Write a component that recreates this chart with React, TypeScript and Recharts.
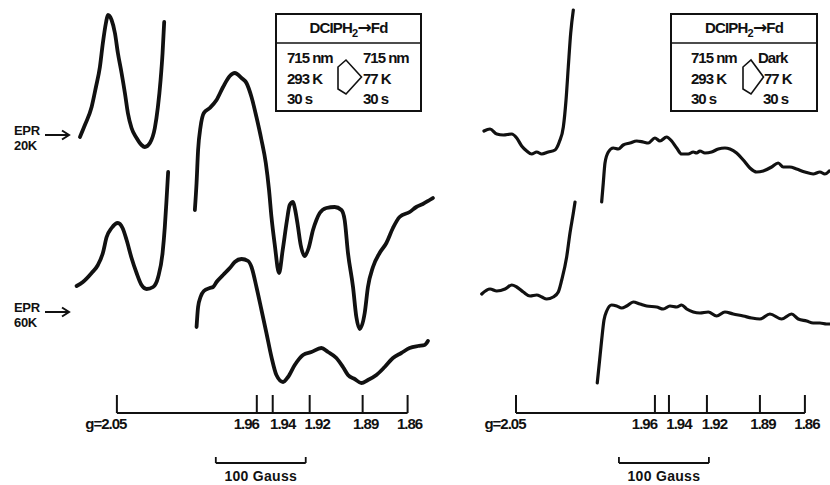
import React from 'react';
import { LineChart, Line, XAxis, YAxis, ReferenceLine } from 'recharts';

// ---------- data (field in Gauss, offset from g = 2.05; signal in arbitrary units) ----------
const G_LABELS = ['g=2.05', '1.96', '1.94', '1.92', '1.89', '1.86'];
const FIELD_TICKS_A = [0, 155.6, 173.3, 214.4, 273.3, 323.3];
const FIELD_TICKS_B = [0, 154.4, 170, 212.2, 271.1, 321.1];
const SCALE_BAR_A = [110, 210];
const SCALE_BAR_B = [114.4, 214.4];
const SCALE_LABEL = '100 Gauss';

const left20kLow: [number, number][] = [[-41.1,348],[-35.6,360],[-28.1,378],[-23.3,398],[-18.9,418],[-15.6,442],[-12.2,462],[-10,470],[-5.9,465],[-2.2,452],[1.1,432],[5.2,412],[8.9,392],[12.2,372],[16.3,357],[21.9,347],[27.4,340],[31.1,338],[36.7,342],[42.2,357],[45.6,378],[48.6,405],[50.8,432],[52.6,463]];
const left20kHigh: [number, number][] = [[86.7,275],[88.6,302],[90.3,335],[93,358],[96.7,372],[103.3,377],[110.8,385],[118.1,398],[125.6,409],[131.1,412],[138.6,407],[144.1,402],[149.7,388],[155.2,368],[160.8,345],[165.6,322],[169.2,295],[171.9,268],[175.6,240],[180.3,212],[184.4,235],[189.2,265],[192.2,280],[195.9,283],[198.3,275],[201.1,260],[204.4,240],[208.9,229],[213.3,237],[218.1,255],[221.9,265],[225.6,272],[233,277],[242.2,278],[249.7,275],[253.3,265],[257,232],[262.6,198],[266.3,168],[270,156],[275.6,172],[279.2,198],[284.8,218],[292.2,232],[299.7,242],[307,257],[314.4,268],[325.6,273],[333,278],[340.3,281],[347.8,285],[351.4,287]];
const left60kLow: [number, number][] = [[-44.8,199],[-37.8,203],[-28.1,212],[-21.1,220],[-15.6,232],[-11.4,248],[-5.9,257],[1.1,262],[6.3,257],[10.8,245],[16.3,227],[21.9,212],[27.4,200],[33,196],[40.3,198],[45.9,208],[50.8,232],[53.3,258],[55.2,285],[57,313]];
const left60kHigh: [number, number][] = [[88.6,158],[90.3,178],[93,188],[96.7,194],[103.3,197],[107,198],[110.8,203],[118.1,210],[125.6,217],[131.1,223],[138.6,226],[145.9,224],[149.7,218],[155.2,198],[160.8,175],[166.3,152],[171.9,128],[177.4,110],[184.8,103],[190.3,108],[197.8,120],[207,130],[216.3,133],[227.4,137],[234.8,133],[244.1,127],[251.4,118],[257,110],[264.4,106],[271.9,102],[279.2,105],[288.6,110],[297.8,118],[307,127],[316.3,132],[325.6,137],[334.8,139],[342.2,140],[345.9,144]];

const right20kLow: [number, number][] = [[-35.6,354],[-28.9,356],[-21.4,351],[-14.1,350],[-4.8,351],[0.8,347],[6.3,339],[11.9,334],[17.4,331],[23,333],[28.6,331],[35.9,333],[43.3,335],[48.1,343],[52.6,358],[55.6,385],[58.1,418],[60.8,452],[63.7,475]];
const right20kHigh: [number, number][] = [[95.2,283],[97,302],[98.9,322],[102.6,333],[108.1,337],[113.7,336],[119.2,340],[126.7,342],[134.1,344],[141.4,343],[147,342],[154.4,347],[160,344],[167.4,348],[173,344],[178.6,337],[184.1,331],[191.4,331],[197,333],[200.8,332],[204.4,334],[210,332],[217.4,333],[224.8,336],[232.2,337],[237.8,336],[245.2,332],[252.6,325],[260,317],[267.4,313],[274.8,314],[284.1,318],[291.4,322],[297,318],[304.4,318],[311.9,316],[321.1,313],[330.3,311],[337.8,313],[343.3,311],[348.1,314]];
const right60kLow: [number, number][] = [[-38.1,191],[-28.9,196],[-21.4,194],[-12.2,196],[-4.8,200],[0.8,198],[8.1,193],[15.6,189],[23,190],[28.6,188],[34.1,186],[41.4,188],[47,193],[50.8,205],[56.3,228],[60,252],[63.7,272],[65.6,283]];
const right60kHigh: [number, number][] = [[90.3,102],[92.6,122],[95.2,145],[97.8,165],[100.8,174],[106.3,180],[111.9,179],[117.4,177],[123,179],[130.3,183],[137.8,181],[145.2,179],[156.3,178],[163.7,176],[171.1,179],[178.6,178],[184.1,180],[189.7,176],[197,173],[204.4,172],[213.7,173],[223,169],[232.2,173],[241.4,171],[252.6,169],[261.9,167],[271.1,166],[282.2,171],[295.2,166],[306.3,171],[313.7,166],[323,164],[330.3,162],[337.8,162],[345.2,161],[348.9,161]];

const BOX_A = { title: 'DCIPH', left: ['715 nm', '293 K', '30 s'], right: ['715 nm', '77 K', '30 s'] };
const BOX_B = { title: 'DCIPH', left: ['715 nm', '293 K', '30 s'], right: ['Dark', '77 K', '30 s'] };

// ---------- style / layout ----------
const FONT = "'Liberation Sans', Arial, sans-serif";
const INK = '#111';
const AXIS_S = 72;
const TICK_TOP_S = 90;
const BAR_S = 22;
const BAR_CAP_S = 28;
const LABEL_DX = [-11, -10.5, 10, 7.5, 3, 2];

const toPts = (a: [number, number][]) => a.map(([f, s]) => ({ f, s }));

type PanelProps = {
  left: number;
  width: number;
  domain: [number, number];
  traces: [number, number][][];
  ticks: number[];
  bar: number[];
  strokeWidth: number;
};

function Panel({ left, width, domain, traces, ticks, bar, strokeWidth }: PanelProps) {
  const labelStyle = { fill: INK, fontSize: 15, fontWeight: 700, fontFamily: FONT, letterSpacing: -1 };
  return (
    <div style={{ position: 'absolute', left, top: 0 }}>
      <LineChart width={width} height={485} margin={{ top: 0, right: 0, bottom: 0, left: 0 }}>
        <XAxis dataKey="f" type="number" domain={domain} hide allowDataOverflow />
        <YAxis dataKey="s" type="number" domain={[0, 485]} hide allowDataOverflow />
        {traces.map((t, i) => (
          <Line
            key={i}
            data={toPts(t)}
            dataKey="s"
            type="monotone"
            stroke={INK}
            strokeWidth={strokeWidth}
            strokeLinecap="round"
            strokeLinejoin="round"
            dot={false}
            activeDot={false}
            isAnimationActive={false}
          />
        ))}
        <ReferenceLine
          segment={[{ x: ticks[0], y: AXIS_S }, { x: ticks[ticks.length - 1], y: AXIS_S }]}
          stroke={INK}
          strokeWidth={2}
        />
        {ticks.map((g, i) => (
          <ReferenceLine
            key={'t' + i}
            segment={[{ x: g, y: AXIS_S }, { x: g, y: TICK_TOP_S }]}
            stroke={INK}
            strokeWidth={2}
            label={{ value: G_LABELS[i], position: 'bottom', offset: 5, dx: LABEL_DX[i], ...labelStyle }}
          />
        ))}
        <ReferenceLine
          segment={[{ x: bar[0], y: BAR_S }, { x: bar[1], y: BAR_S }]}
          stroke={INK}
          strokeWidth={1.8}
          label={{ value: SCALE_LABEL, position: 'bottom', offset: 8, fill: INK, fontSize: 14, fontWeight: 700, fontFamily: FONT, letterSpacing: 0.3 }}
        />
        <ReferenceLine segment={[{ x: bar[0], y: BAR_S }, { x: bar[0], y: BAR_CAP_S }]} stroke={INK} strokeWidth={1.8} />
        <ReferenceLine segment={[{ x: bar[1], y: BAR_S }, { x: bar[1], y: BAR_CAP_S }]} stroke={INK} strokeWidth={1.8} />
      </LineChart>
    </div>
  );
}

type BoxProps = { x: number; w: number; box: typeof BOX_A; arrowX: number; arrowW: number; leftX: number; rightX: number[] };

function InfoBox({ x, w, box, arrowX, arrowW, leftX, rightX }: BoxProps) {
  const rows = [63, 84, 104];
  const ax = arrowX;
  const arrow = `M${ax},67 L${ax + 8},60 L${ax + arrowW},77 L${ax + 8},94 L${ax},89 Z`;
  return (
    <g fontFamily={FONT} fontWeight={700} fill={INK}>
      <rect x={x} y={14} width={w} height={97} fill="#fff" stroke={INK} strokeWidth={2} />
      <line x1={x} x2={x + w} y1={43} y2={43} stroke={INK} strokeWidth={1.6} />
      <text x={x + w / 2} y={33} textAnchor="middle" fontSize={15} letterSpacing={-0.8}>
        {box.title}
        <tspan dy={4} fontSize={11}>2</tspan>
        <tspan dy={-4} fontFamily="'DejaVu Sans', sans-serif" fontSize={17} fontWeight={700}>→</tspan>
        <tspan>Fd</tspan>
      </text>
      {box.left.map((t, i) => (
        <text key={'l' + i} x={leftX} y={rows[i]} fontSize={15} letterSpacing={-1}>{t}</text>
      ))}
      {box.right.map((t, i) => (
        <text key={'r' + i} x={rightX[i]} y={rows[i]} fontSize={15} letterSpacing={-1}>{t}</text>
      ))}
      <path d={arrow} fill="none" stroke={INK} strokeWidth={1.6} strokeLinejoin="miter" />
    </g>
  );
}

function EprLabel({ y, temp }: { y: number; temp: string }) {
  return (
    <g fontFamily={FONT} fontWeight={700} fill={INK} fontSize={13}>
      <text x={14} y={y - 14.8} letterSpacing={-0.3}>EPR</text>
      <text x={14} y={y} letterSpacing={-0.3}>{temp}</text>
      <line x1={45} x2={69} y1={y - 15} y2={y - 15} stroke={INK} strokeWidth={2} />
      <path d={`M62,${y - 19.5} L69,${y - 15} L62,${y - 10.5}`} fill="none" stroke={INK} strokeWidth={2} />
    </g>
  );
}

export default function App() {
  return (
    <div style={{ position: 'absolute', left: 0, top: 0, width: 830, height: 485, background: '#fff', overflow: 'hidden' }}>
      <Panel
        left={0}
        width={437}
        domain={[-130, 356]}
        traces={[left20kLow, left20kHigh, left60kLow, left60kHigh]}
        ticks={FIELD_TICKS_A}
        bar={SCALE_BAR_A}
        strokeWidth={3.8}
      />
      <Panel
        left={430}
        width={400}
        domain={[-95.6, 349]}
        traces={[right20kLow, right20kHigh, right60kLow, right60kHigh]}
        ticks={FIELD_TICKS_B}
        bar={SCALE_BAR_B}
        strokeWidth={3.2}
      />
      <svg width={830} height={485} style={{ position: 'absolute', left: 0, top: 0, pointerEvents: 'none' }}>
        <InfoBox x={276} w={145} box={BOX_A} arrowX={338} arrowW={23.5} leftX={287} rightX={[363, 363, 363]} />
        <InfoBox x={671} w={146} box={BOX_B} arrowX={743} arrowW={20.5} leftX={691} rightX={[758, 764, 763]} />
        <EprLabel y={150} temp="20K" />
        <EprLabel y={327} temp="60K" />
      </svg>
    </div>
  );
}
